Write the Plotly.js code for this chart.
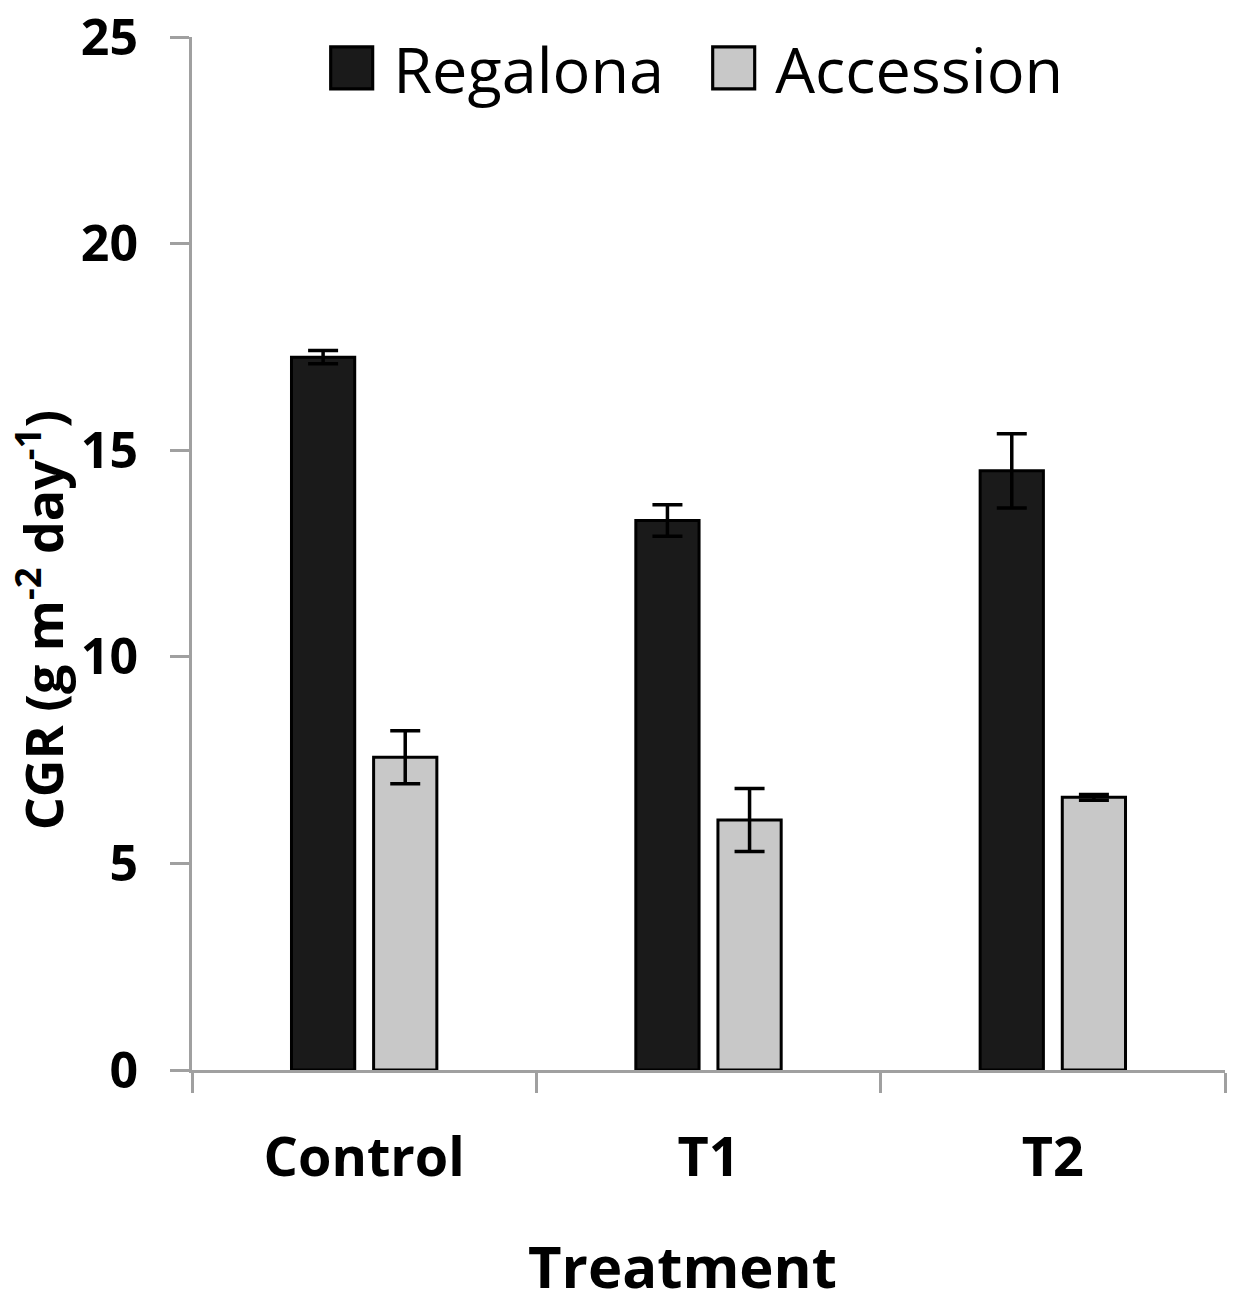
<!DOCTYPE html>
<html>
<head>
<meta charset="utf-8">
<script src="https://cdn.plot.ly/plotly-3.0.1.min.js"></script>
<style>html,body{margin:0;padding:0;background:#fff;}</style>
</head>
<body>
<div id="chart" style="width:1237px;height:1306px;"></div>
<script>
const categories = ["Control", "T1", "T2"];
const regalona = [17.25, 13.3, 14.5];
const regalonaErr = [0.16, 0.38, 0.9];
const accession = [7.57, 6.05, 6.6];
const accessionErr = [0.64, 0.76, 0.07];
const yTicks = [0, 5, 10, 15, 20, 25];
const xTitle = "Treatment";
const yTitle = "CGR (g m<sup>-2</sup> day<sup>-1</sup>)";

const FONT = "Open Sans, Liberation Sans, sans-serif";
const axisGray = "#a0a0a0";

const traces = [
  {
    type: "bar", name: "Regalona", x: categories, y: regalona,
    marker: {color: "#1a1a1a", line: {color: "#000", width: 3}},
    error_y: {type: "data", array: regalonaErr, visible: true, color: "#000", thickness: 3.5, width: 15}
  },
  {
    type: "bar", name: "Accession", x: categories, y: accession,
    marker: {color: "#c8c8c8", line: {color: "#000", width: 3}},
    error_y: {type: "data", array: accessionErr, visible: true, color: "#000", thickness: 3.5, width: 15}
  }
];

const layout = {
  width: 1237, height: 1306,
  margin: {l: 192, r: 12, t: 37, b: 236},
  paper_bgcolor: "#fff", plot_bgcolor: "#fff",
  bargap: 0.523, bargroupgap: 0.23,
  showlegend: true,
  legend: {
    orientation: "h", x: 0.127, xanchor: "left", y: 0.97, yanchor: "middle",
    font: {family: FONT, size: 63, color: "#000"},
    itemwidth: 60, entrywidth: 307, entrywidthmode: "pixels",
    bgcolor: "rgba(0,0,0,0)"
  },
  xaxis: {
    type: "category", range: [-0.5, 2.5],
    tickson: "boundaries", ticks: "outside", ticklen: 20, tickwidth: 3, tickcolor: axisGray,
    showline: true, linecolor: axisGray, linewidth: 3,
    showgrid: false, zeroline: false,
    tickfont: {family: FONT, size: 54, color: "#000", weight: "bold"},
    ticklabelstandoff: 38
  },
  yaxis: {
    range: [0, 25], tickvals: yTicks, ticktext: yTicks.map(String),
    ticks: "outside", ticklen: 19, tickwidth: 3, tickcolor: axisGray,
    showline: true, linecolor: axisGray, linewidth: 3,
    showgrid: false, zeroline: false,
    tickfont: {family: FONT, size: 50, color: "#000", weight: "bold"},
    ticklabelstandoff: 22
  },
  annotations: [
    {
      text: yTitle,
      xref: "paper", yref: "paper", x: -0.147, y: 0.4355, xanchor: "center", yanchor: "middle",
      textangle: -90, showarrow: false,
      font: {family: FONT, size: 52, color: "#000", weight: "bold"}
    },
    {
      text: xTitle,
      xref: "paper", yref: "paper", x: 0.475, y: -0.1897, xanchor: "center", yanchor: "middle",
      showarrow: false,
      font: {family: FONT, size: 58, color: "#000", weight: "bold"}
    }
  ]
};

Plotly.newPlot("chart", traces, layout, {displayModeBar: false, staticPlot: true}).then(function () {
  document.querySelectorAll("#chart .legend g.traces").forEach(function (tr) {
    const text = tr.querySelector("text.legendtext");
    const path = tr.querySelector(".legendpoints path");
    if (!text || !path) return;
    const tx = parseFloat(text.getAttribute("x")) || 0;
    const trM = tr.getCTM();
    const pM = path.parentNode.getCTM();
    const dx = pM.e - trM.e;
    const dy = pM.f - trM.f;
    const cx = tx - 20 - 21.5;
    path.setAttribute("transform", "translate(" + (cx - dx) + "," + (-dy) + ") scale(3.5)");
    path.style.strokeWidth = "0.9px";
  });
});
</script>
</body>
</html>
